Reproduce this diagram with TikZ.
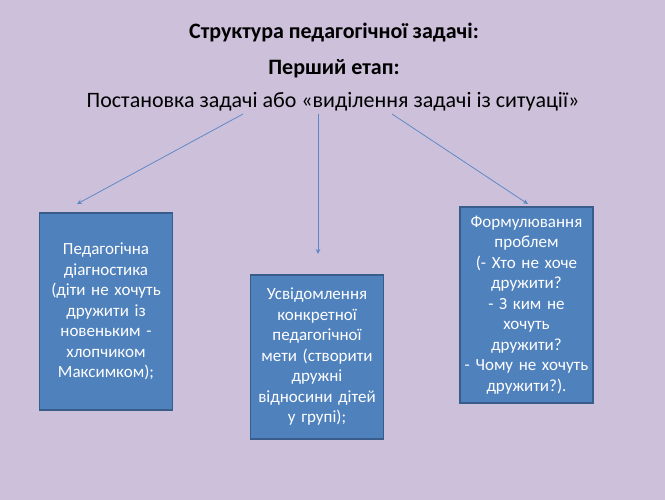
\documentclass[tikz,border=0pt]{standalone}
\usepackage{fontspec}
\setmainfont{Carlito}
\usepackage{xcolor}
\usepackage{tikz}
\usetikzlibrary{arrows.meta, positioning}

\definecolor{slidebg}{HTML}{CCC0DA}
\definecolor{boxfill}{HTML}{4F81BD}
\definecolor{boxline}{HTML}{385D8A}
\definecolor{arrowcol}{HTML}{5B87C5}

\begin{document}
\begin{tikzpicture}[
    x=1pt, y=-1pt,
    >={Stealth[length=5pt, width=4.5pt]},
    heading/.style={font=\fontsize{22}{26}\selectfont\bfseries, inner sep=0pt},
    subhead/.style={font=\fontsize{22}{26}\selectfont, inner sep=0pt},
    stagebox/.style={draw=boxline, line width=1.5pt, fill=boxfill, text=white, align=center,
        font=\fontsize{17}{20.5}\selectfont, inner sep=2pt, minimum width=133, text width=129},
    arrow/.style={->, draw=arrowcol, line width=0.75pt}
]

% background of the slide
\fill[slidebg] (0,0) rectangle (665,500);
\useasboundingbox (0,0) rectangle (665,500);

\node[heading] (title) at (334, 33) {Структура педагогічної задачі:};
\node[heading] (stage) at (334, 69) {Перший етап:};
\node[subhead] (task) at (333, 102) {Постановка задачі або «виділення задачі із ситуації»};

\node[stagebox, minimum height=197] (diag) at (106, 311.5) {Педагогічна\\діагностика\\(діти не хочуть\\дружити із\\новеньким -\\хлопчиком\\Максимком);};
\node[stagebox, minimum height=164, minimum width=132] (goal) at (317, 357) {Усвідомлення\\конкретної\\педагогічної\\мети (створити\\дружні\\відносини дітей\\у групі);};
\node[stagebox, minimum height=196] (probl) at (526.5, 305) {Формулювання\\проблем\\(- Хто не хоче\\дружити?\\- З ким не\\хочуть\\дружити?\\- Чому не хочуть\\дружити?).};

\coordinate (s1) at (243, 114);
\coordinate (s2) at (318, 114);
\coordinate (s3) at (392, 114);
\coordinate (e1) at (77, 204);
\coordinate (e2) at (318, 254);
\coordinate (e3) at (528, 204);

\draw[arrow] (s1) -- (e1);
\draw[arrow] (s2) -- (e2);
\draw[arrow] (s3) -- (e3);

\end{tikzpicture}
\end{document}
